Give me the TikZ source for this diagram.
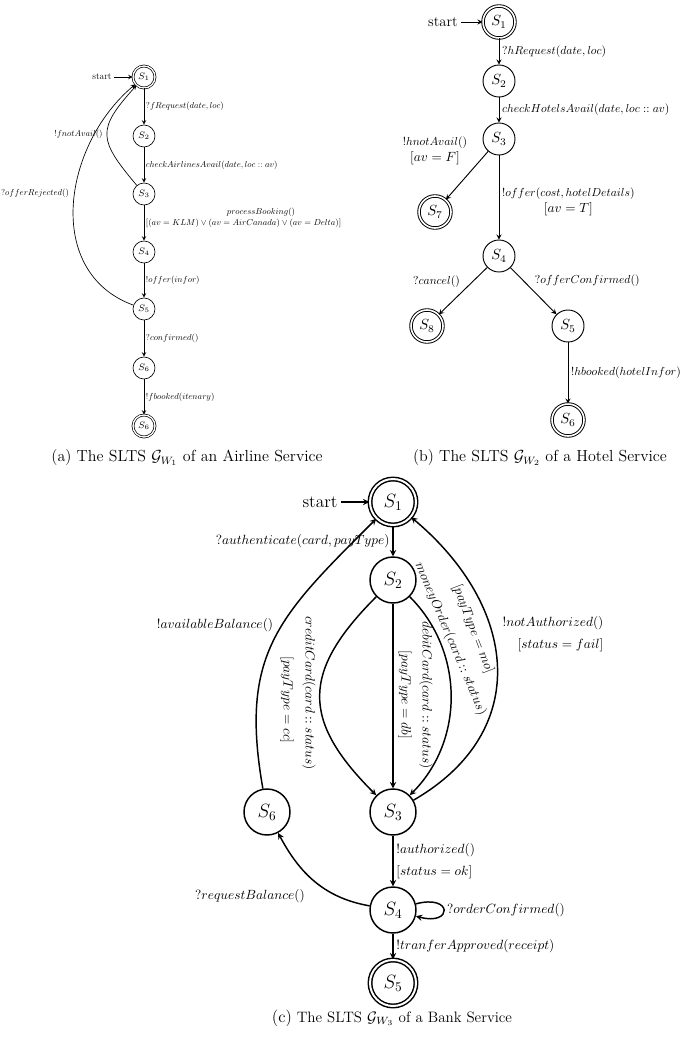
\RequirePackage{fix-cm}
\documentclass[tikz,border=0pt]{standalone}
\usepackage{graphicx}
\newcommand{\smath}[1]{\scalebox{0.87}{$#1$}}
\begin{document}
\begin{tikzpicture}[x=7.5pt, y=7.5pt, >=stealth,
    state/.style={circle, draw, inner sep=0pt},
    final/.style={state, double},
    txt/.style={inner sep=2pt, font=\normalsize}]
  \useasboundingbox (0,0) rectangle (68.5,-103.8);

  % (a) airline service
  \begin{scope}[line width=0.5pt,
      state/.append style={minimum size=16.5pt, font=\fontsize{7}{8}\selectfont},
      final/.append style={double distance=1pt},
      txt/.append style={scale=0.65}]
    \node [final] (a1) at (14.4,-7.7) {$S_1$};
    \node [state] (a2) at (14.4,-13.6) {$S_2$};
    \node [state] (a3) at (14.4,-19.4) {$S_3$};
    \node [state] (a4) at (14.4,-25.2) {$S_4$};
    \node [state] (a5) at (14.4,-30.9) {$S_5$};
    \node [state] (a6) at (14.4,-36.8) {$S_6$};
    \node [final] (a7) at (14.4,-42.6) {$S_6$};
    \node [txt, font=\fontsize{11}{13}\selectfont] (as) at (10.2,-7.7) {start};

    \node [txt] (ta31) at (7.85,-13.4) {$!fnotAvail()$};
    \node [txt] (ta51) at (3.5,-19.3) {$?offerRejected()$};
    \node [txt] (ta34p) at (26.1,-21.25) {$processBooking()$};

    \begin{scope}[->]
      \draw (as) -- (a1);
      \draw (a1) to node [txt, right] (ta12) {$?fRequest(date, loc)$} (a2);
      \draw (a2) to node [txt, right] (ta23) {$checkAirlinesAvail(date, loc :: av)$} (a3);
      \draw (a3) to node [txt, right, yshift=-0.5pt] (ta34) {$[(av = KLM) \vee (av = AirCanada) \vee (av = Delta)]$} (a4);
      \draw (a4) to node [txt, right] (ta45) {$!offer(infor)$} (a5);
      \draw (a5) to node [txt, right] (ta56) {$?confirmed()$} (a6);
      \draw (a6) to node [txt, right] (ta67) {$!fbooked(itenary)$} (a7);
      \draw (a3) to [out=130, in=228, looseness=1.53] (a1);
      \draw (a5) to [out=160, in=220, looseness=1.1] (a1);
    \end{scope}
  \end{scope}

  % (b) hotel service
  \begin{scope}[line width=0.7pt,
      state/.append style={minimum size=24pt, font=\fontsize{11}{13}\selectfont},
      final/.append style={double distance=1.2pt}]
    \node [final] (b1) at (49.9,-2.2) {$S_1$};
    \node [state] (b2) at (49.9,-8.1) {$S_2$};
    \node [state] (b3) at (49.9,-13.9) {$S_3$};
    \node [final] (b7) at (43.5,-21.2) {$S_7$};
    \node [state] (b4) at (49.9,-25.6) {$S_4$};
    \node [final] (b8) at (42.7,-32.6) {$S_8$};
    \node [state] (b5) at (56.8,-32.6) {$S_5$};
    \node [final] (b6) at (56.8,-42.0) {$S_6$};
    \node [txt, font=\fontsize{11}{13}\selectfont] (bs) at (44.3,-2.2) {start};

    \node [txt, align=center] (tb37) at (43.5,-15.1) {\smath{!hnotAvail()}\\$[av = F]$};

    \begin{scope}[->]
      \draw (bs) -- (b1);
      \draw (b1) to node [txt, right] (tb12) {\smath{?hRequest(date, loc)}} (b2);
      \draw (b2) to node [txt, right] (tb23) {\smath{checkHotelsAvail(date, loc :: av)}} (b3);
      \draw (b3) -- (b7);
      \draw (b3) to node [txt, right, align=center, yshift=-3pt] (tb34) {\smath{!offer(cost, hotelDetails)}\\$[av = T]$} (b4);
      \draw (b4) to node [txt, above left] (tb48) {\smath{?cancel()}} (b8);
      \draw (b4) to node [txt, pos=0.46, above right] (tb45) {\smath{?offerConfirmed()}} (b5);
      \draw (b5) to node [txt, right] (tb56) {\smath{!hbooked(hotelInfor)}} (b6);
    \end{scope}
  \end{scope}

  % (c) bank service
  \begin{scope}[line width=1.1pt,
      state/.append style={minimum size=34.5pt, font=\Large},
      final/.append style={double distance=1.5pt}]
    \node [final] (c1) at (39.3,-50.2) {$S_1$};
    \node [state] (c2) at (39.3,-58.0) {$S_2$};
    \node [state] (c3) at (39.3,-81.2) {$S_3$};
    \node [state] (c6) at (26.7,-81.2) {$S_6$};
    \node [state] (c4) at (39.3,-91.0) {$S_4$};
    \node [final] (c5) at (39.3,-98.3) {$S_5$};
    \node [txt, font=\fontsize{13}{15}\selectfont] (cs) at (32.0,-50.2) {start};

    \node [txt] (tc61) at (21.5,-62.5) {$!availableBalance()$};
    \node [txt, rotate=-90] (tc23cc) at (30.9,-69.3) {$creditCard(card :: status)$};
    \node [txt, rotate=-90] (tc23c) at (28.7,-70.0) {$[payType = cc]$};
    \node [txt, rotate=-90] (tc23db) at (40.5,-69.5) {$[payType = db]$};
    \node [txt, rotate=-90] (tc23d) at (42.6,-69.5) {$debitCard(card :: status)$};
    \node [txt, rotate=-67] (tc23mo) at (45.05,-63.9) {$moneyOrder(card :: status)$};
    \node [txt, rotate=-69] (tc23m) at (47.3,-62.9) {$[payType = mo]$};
    \node [txt, align=right] (tc31) at (55.3,-63.4) {$!notAuthorized()$\\[4.5pt]$[status = fail]$};
    \node [txt] (tc46) at (25.0,-89.6) {$?requestBalance()$};

    \begin{scope}[->]
      \draw (cs) -- (c1);
      \draw (c1) to node [txt, left] (tc12) {$?authenticate(card, payType)$} (c2);
      \draw (c2) to [out=225, in=135, looseness=1.37] (c3);
      \draw (c2) -- (c3);
      \draw (c2) to [out=-45, in=45, looseness=1.0] (c3);
      \draw (c3) to [out=30, in=-40, looseness=1.25] (c1);
      \draw (c6) to [out=100, in=225, looseness=1.2] (c1);
      \draw (c3) to node [txt, right, align=left] (tc34) {$!authorized()$\\[4pt]$[status = ok]$} (c4);
      \draw (c4) to [out=170, in=-62] (c6);
      \draw (c4) to [loop right] node [txt, right] (tc44) {$?orderConfirmed()$} (c4);
      \draw (c4) to node [txt, right] (tc45) {$!tranferApproved(receipt)$} (c5);
    \end{scope}
  \end{scope}

  % captions
  \node [font=\fontsize{12}{14}\selectfont] (capa) at (18.7,-45.8) {(a) The SLTS $\mathcal{G}_{W_1}$ of an Airline Service};
  \node [font=\fontsize{12}{14}\selectfont] (capb) at (54.0,-45.8) {(b) The SLTS $\mathcal{G}_{W_2}$ of a Hotel Service};
  \node [font=\fontsize{11.3}{14}\selectfont] (capc) at (39.2,-101.8) {{\fontsize{12.5}{14}\selectfont (c)} The SLTS $\mathcal{G}_{W_3}$ of a Bank Service};
\end{tikzpicture}
\end{document}
